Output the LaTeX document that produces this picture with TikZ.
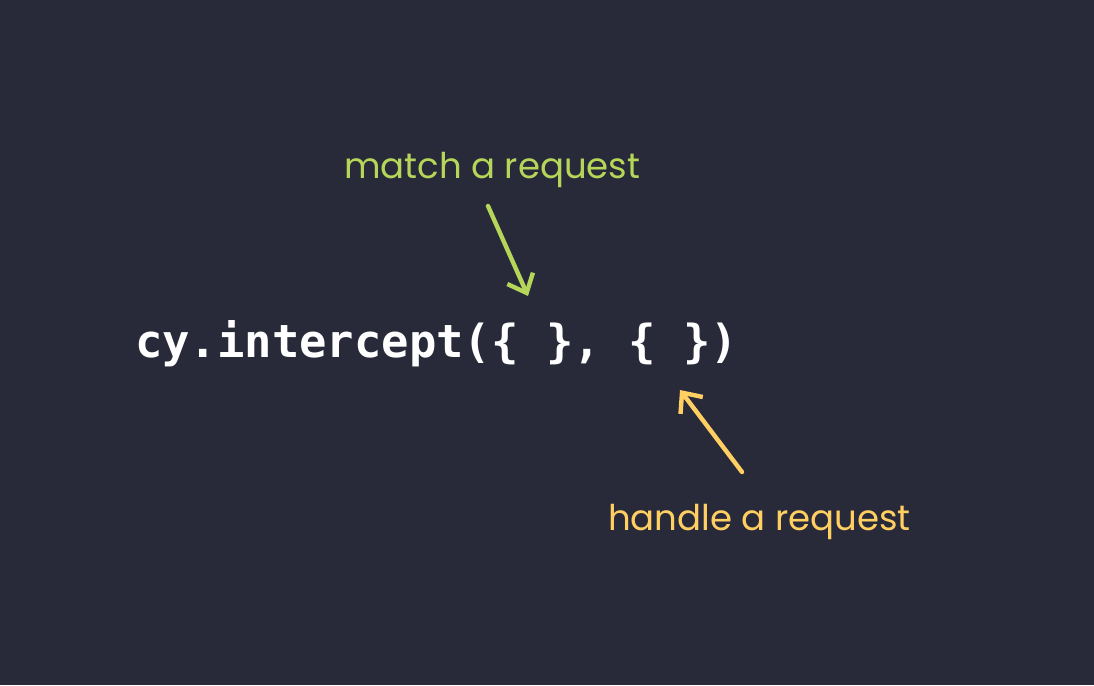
\documentclass[tikz,border=0pt]{standalone}
\usepackage{fontspec}
\usetikzlibrary{arrows.meta}
\newfontfamily\codefont{DejaVu Sans Mono}
\newfontfamily\handfont{Poppins}
\definecolor{bgc}{RGB}{40,42,58}
\definecolor{greenc}{RGB}{181,214,89}
\definecolor{yellowc}{RGB}{255,207,98}
\tikzset{
  codetext/.style={inner sep=0pt, anchor=base west, text=white, font=\codefont\bfseries\fontsize{45.5}{50}\selectfont},
  handtext/.style={inner sep=0pt, anchor=base west, font=\handfont\fontsize{35.5}{38}\selectfont},
  sketcharrow/.style={line width=4.4pt, line cap=round, line join=round, -{Straight Barb[length=16pt, width=28pt, line width=4.4pt]}}
}
\begin{document}
\begin{tikzpicture}[x=1pt,y=-1pt]
\fill[bgc] (0,0) rectangle (1094,685);
\useasboundingbox (0,0) rectangle (1094,685);
\node[codetext] (code) at (135,357) {cy.intercept(\{ \}, \{ \})};
\node[handtext, text=greenc] (match) at (344,178) {match a request};
\node[handtext, text=yellowc] (handle) at (608,530) {handle a request};
\coordinate (g1) at (488,206);
\coordinate (g2) at (528,296);
\coordinate (y1) at (742,472);
\coordinate (y2) at (680,390);
\draw[sketcharrow, greenc] (g1) -- (g2);
\draw[sketcharrow, yellowc] (y1) -- (y2);
\end{tikzpicture}
\end{document}
